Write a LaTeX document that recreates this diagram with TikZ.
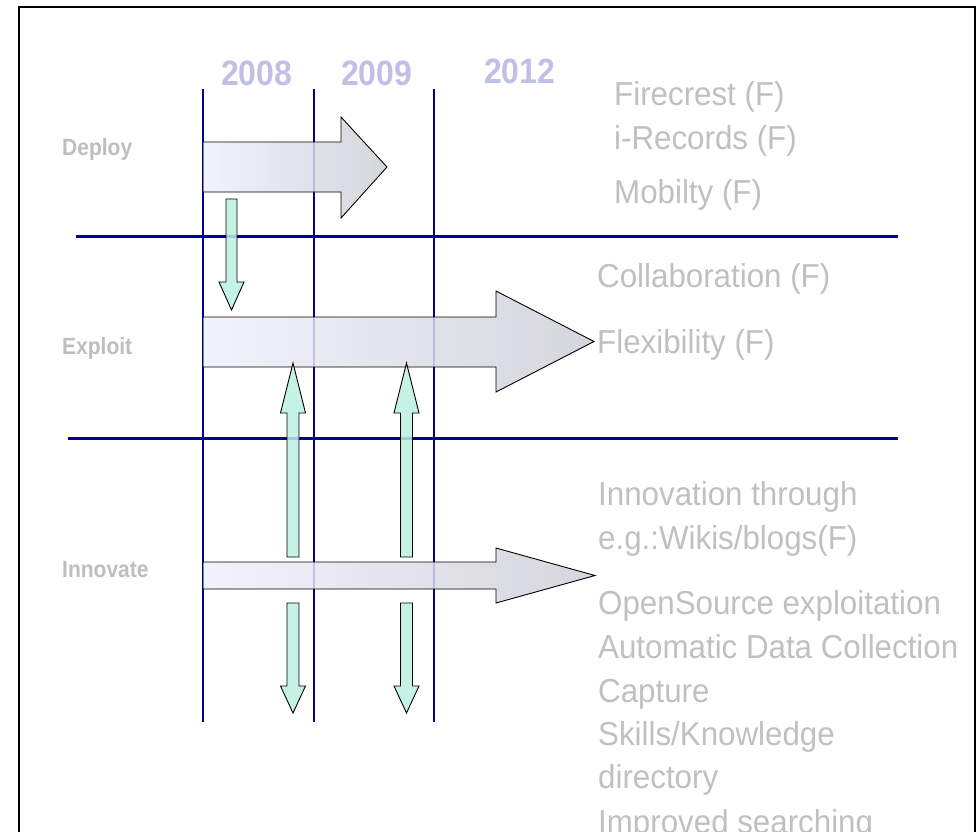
\documentclass[tikz,border=0pt]{standalone}
\usepackage{fontspec}
\setmainfont{Liberation Sans}
\definecolor{blueln}{RGB}{0,0,153}
\definecolor{yearcol}{RGB}{192,192,230}
\definecolor{txtgray}{RGB}{192,192,192}
\definecolor{lblgray}{RGB}{190,190,190}
\definecolor{tealfill}{RGB}{188,240,226}
\definecolor{shadeL}{RGB}{240,240,252}
\definecolor{shadeR}{RGB}{206,206,214}
\newcommand{\tallA}[1]{\scalebox{1}[1.1]{#1}}
\newcommand{\tallB}[1]{\scalebox{1}[1.12]{#1}}
\newcommand{\tallC}[1]{\scalebox{1}[1.06]{#1}}
\begin{document}
\begin{tikzpicture}[x=1pt,y=-1pt,
  gridv/.style={draw=blueln,line width=2pt},
  gridh/.style={draw=blueln,line width=3pt},
  bigarrow/.style={draw=black,line width=0.9pt,left color=shadeL,right color=shadeR,fill opacity=0.85,line join=miter},
  smallarrow/.style={draw=black,line width=0.9pt,fill=tealfill,fill opacity=0.85,line join=miter},
  yearlbl/.style={anchor=base west,inner sep=0pt,text=yearcol,font=\bfseries\fontsize{32}{36}\selectfont},
  rowlbl/.style={anchor=base west,inner sep=0pt,text=lblgray,font=\bfseries\fontsize{21}{24}\selectfont},
  item/.style={anchor=base west,inner sep=0pt,text=txtgray,font=\fontsize{31.3}{36}\selectfont}]
\clip (0,0) rectangle (978,831);
% frame
\draw[line width=2.8pt] (19,7) rectangle (975,860);
% grid lines
\coordinate (v1t) at (203,89);  \coordinate (v1b) at (203,722);
\coordinate (v2t) at (314,89);  \coordinate (v2b) at (314,722);
\coordinate (v3t) at (434,89);  \coordinate (v3b) at (434,722);
\coordinate (h1l) at (76,236);  \coordinate (h1r) at (898,236);
\coordinate (h2l) at (68,438);  \coordinate (h2r) at (898,438);
\draw[gridv] (v1t) -- (v1b);
\draw[gridv] (v2t) -- (v2b);
\draw[gridv] (v3t) -- (v3b);
\draw[gridh] (h1l) -- (h1r);
\draw[gridh] (h2l) -- (h2r);
% years
\node[yearlbl] (y2008) at (221,85) {\tallA{2008}};
\node[yearlbl] (y2009) at (341,85) {\tallA{2009}};
\node[yearlbl] (y2012) at (484,83) {\tallA{2012}};
% row labels
\node[rowlbl] (deploy) at (62,155) {\tallB{Deploy}};
\node[rowlbl] (exploit) at (62,354) {\tallB{Exploit}};
\node[rowlbl] (innovate) at (62,577) {\tallB{Innovate}};
% big block arrows
\path[bigarrow] (203,142) -- (341,142) -- (341,117) -- (387,167) -- (341,218) -- (341,192) -- (203,192) -- cycle;
\path[bigarrow] (203,317) -- (496,317) -- (496,291) -- (594,341.5) -- (496,392) -- (496,367) -- (203,367) -- cycle;
\path[bigarrow] (203,562) -- (496,562) -- (496,548) -- (595,575.5) -- (496,603) -- (496,589) -- (203,589) -- cycle;
% small teal arrows
\path[smallarrow] (226,199) -- (237,199) -- (237,282) -- (244,282) -- (231.5,310) -- (219,282) -- (226,282) -- cycle;
\path[smallarrow] (287,557) -- (287,413) -- (280.5,413) -- (293,363) -- (305.5,413) -- (299,413) -- (299,557) -- cycle;
\path[smallarrow] (400.5,557) -- (400.5,413) -- (394,413) -- (406.5,363) -- (419,413) -- (412.5,413) -- (412.5,557) -- cycle;
\path[smallarrow] (287,603) -- (299,603) -- (299,686) -- (305.5,686) -- (293,713) -- (280.5,686) -- (287,686) -- cycle;
\path[smallarrow] (400.5,603) -- (412.5,603) -- (412.5,686) -- (419,686) -- (406.5,713) -- (394,686) -- (400.5,686) -- cycle;
% right-hand texts
\node[item] (fire) at (614,105) {\tallC{Firecrest (F)}};
\node[item] (irec) at (614,149) {\tallC{i-Records (F)}};
\node[item] (mob) at (614,203) {\tallC{Mobilty (F)}};
\node[item] (coll) at (597,287) {\tallC{Collaboration (F)}};
\node[item] (flex) at (597,353) {\tallC{Flexibility (F)}};
\node[item] (inn1) at (598,505) {\tallC{Innovation through}};
\node[item] (inn2) at (598,549) {\tallC{e.g.:Wikis/blogs(F)}};
\node[item] (os) at (598,614) {\tallC{OpenSource exploitation}};
\node[item] (adc) at (598,658) {\tallC{Automatic Data Collection}};
\node[item] (capt) at (598,702) {\tallC{Capture}};
\node[item] (skill) at (598,745) {\tallC{Skills/Knowledge}};
\node[item] (dir) at (598,788) {\tallC{directory}};
\node[item] (impr) at (598,833) {\tallC{Improved searching}};
\end{tikzpicture}
\end{document}
